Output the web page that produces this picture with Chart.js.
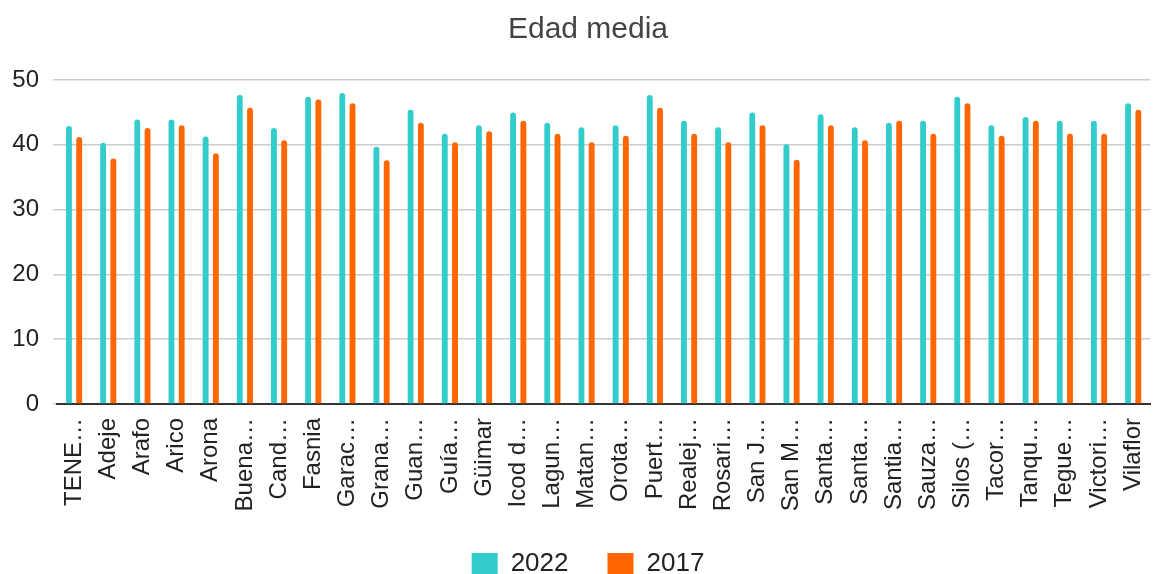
<!DOCTYPE html>
<html>
<head>
<meta charset="utf-8">
<script src="https://cdn.jsdelivr.net/npm/chart.js"></script>
<style>
  html, body { margin: 0; padding: 0; background: #fff; }
  #wrap { width: 1168px; height: 574px; overflow: hidden; position: relative; }
  canvas { display: block; }
</style>
</head>
<body>
<div id="wrap"><canvas id="c" width="1176" height="587"></canvas></div>
<script>
const chartTitle = "Edad media";
const categories = ["TENE…", "Adeje", "Arafo", "Arico", "Arona", "Buena…", "Cand…", "Fasnia", "Garac…", "Grana…", "Guan…", "Guía…", "Güimar", "Icod d…", "Lagun…", "Matan…", "Orota…", "Puert…", "Realej…", "Rosari…", "San J…", "San M…", "Santa…", "Santa…", "Santia…", "Sauza…", "Silos (…", "Tacor…", "Tanqu…", "Tegue…", "Victori…", "Vilaflor"];
const seriesNames = ["2022", "2017"];
const values2022 = [42.9, 40.3, 43.9, 43.9, 41.3, 47.7, 42.6, 47.4, 48.0, 39.7, 45.4, 41.7, 43.0, 45.0, 43.4, 42.7, 43.0, 47.7, 43.7, 42.7, 45.0, 40.1, 44.7, 42.7, 43.4, 43.7, 47.4, 43.0, 44.3, 43.7, 43.7, 46.4];
const values2017 = [41.2, 37.9, 42.6, 43.0, 38.7, 45.7, 40.7, 47.0, 46.4, 37.6, 43.4, 40.4, 42.1, 43.7, 41.7, 40.4, 41.4, 45.7, 41.7, 40.4, 43.0, 37.7, 43.0, 40.7, 43.7, 41.7, 46.4, 41.4, 43.7, 41.7, 41.7, 45.4];
const yTicks = [0, 10, 20, 30, 40, 50];

const FONT = "'Liberation Sans', Arial, sans-serif";

new Chart(document.getElementById('c'), {
  type: 'bar',
  data: {
    labels: categories,
    datasets: [
      { label: seriesNames[0], data: values2022, backgroundColor: '#33cccc' },
      { label: seriesNames[1], data: values2017, backgroundColor: '#ff6600' }
    ]
  },
  options: {
    responsive: false,
    animation: false,
    devicePixelRatio: 1,
    layout: { autoPadding: false, padding: 0 },
    datasets: {
      bar: {
        categoryPercentage: 0.6,
        barPercentage: 0.571,
        borderRadius: 3,
        borderSkipped: 'start'
      }
    },
    plugins: {
      title: {
        display: true,
        text: chartTitle,
        color: '#444444',
        font: { family: FONT, size: 30, weight: 'normal' },
        padding: { top: 12, bottom: 32 }
      },
      legend: {
        display: true,
        position: 'bottom',
        labels: {
          color: '#222222',
          font: { family: FONT, size: 26 },
          boxWidth: 26,
          boxHeight: 22,
          padding: 39
        }
      },
      tooltip: { enabled: false }
    },
    scales: {
      x: {
        grid: { display: false, drawTicks: false },
        border: { display: true, color: '#333333', width: 2 },
        ticks: {
          autoSkip: false,
          maxRotation: 90,
          minRotation: 90,
          padding: 14,
          color: '#222222',
          font: { family: FONT, size: 24 }
        },
        afterFit: (s) => { s.height = 108; }
      },
      y: {
        min: yTicks[0],
        max: yTicks[yTicks.length - 1],
        afterBuildTicks: (s) => { s.ticks = yTicks.map(v => ({ value: v })); },
        grid: { color: '#cccccc', lineWidth: 1.5, drawTicks: true, tickLength: 4 },
        border: { display: false },
        ticks: {
          padding: 14,
          color: '#222222',
          font: { family: FONT, size: 24 }
        },
        afterFit: (s) => { s.width = 57; }
      }
    }
  }
});
</script>
</body>
</html>
